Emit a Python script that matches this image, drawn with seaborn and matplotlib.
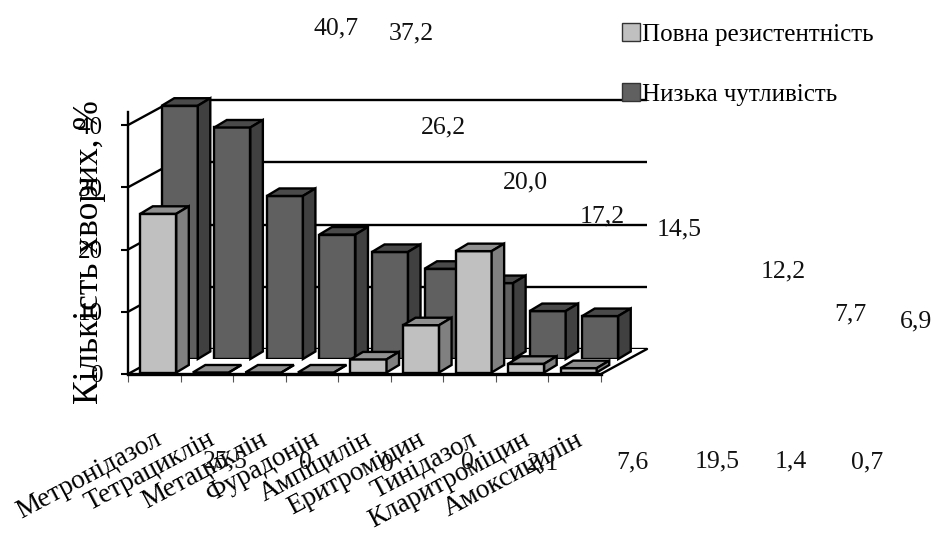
import matplotlib
matplotlib.use("Agg")
import matplotlib.pyplot as plt
import pandas as pd
import seaborn as sns
from matplotlib.patches import Patch, Polygon
from matplotlib.transforms import IdentityTransform

# дані з рисунка
drugs = ["Метронідазол", "Тетрациклін", "Метациклін", "Фурадонін", "Ампіцилін",
         "Еритроміцин", "Тинідазол", "Кларитроміцин", "Амоксицилін"]
full_resistance = [25.5, 0, 0, 0, 2.1, 7.6, 19.5, 1.4, 0.7]
low_sensitivity = [40.7, 37.2, 26.2, 20.0, 17.2, 14.5, 12.2, 7.7, 6.9]
y_ticks = [0, 10, 20, 30, 40]

# підписи стоять не над стовпчиками, а як на оригіналі (пікселі)
low_label_xy = [(336, 28), (411, 33), (443, 127), (525, 182), (602, 216),
                (679, 229), (783, 271), (850, 314), (916, 321)]
full_label_xy = [(225, 461), (305, 463), (387, 465), (467, 463), (543, 463),
                 (632, 462), (717, 461), (791, 461), (867, 462)]

W, H = 934, 534
sns.set_theme(style="white")
plt.rcParams["font.family"] = ["Liberation Serif", "DejaVu Serif"]

df = pd.DataFrame({"drug": drugs, "full": full_resistance, "low": low_sensitivity})
fig = plt.figure(figsize=(W / 100, H / 100), dpi=100, facecolor="white")


def make_ax(dx, dy, z):
    # усі осі мають один масштаб, зсув дає глибину
    ax = fig.add_axes([(128 + dx) / W, (H - 374 + dy) / H, 473 / W, 262 / H], zorder=z)
    ax.patch.set_alpha(0)
    ax.set_xlim(-0.5, 8.5)
    ax.set_ylim(0, 42.1)
    sns.despine(ax=ax, left=True, bottom=True)
    ax.set_xticks([])
    ax.set_yticks([])
    ax.set_xlabel("")
    ax.set_ylabel("")
    return ax


def bars_3d(ax, col, face, top, side, dx=12.5, dy=7.5):
    sns.barplot(data=df, x="drug", y=col, ax=ax, color=face, saturation=1,
                edgecolor="black", linewidth=1.7, width=0.686)
    ax.set_xlim(-0.5, 8.5)
    ax.set_ylim(0, 42.1)
    ax.set_xticks([])
    ax.set_yticks([])
    ax.set_xlabel("")
    ax.set_ylabel("")
    for bar in list(ax.patches):
        x0, y0 = ax.transData.transform((bar.get_x(), 0))
        x1, y1 = ax.transData.transform((bar.get_x() + bar.get_width(), bar.get_height()))
        roof = [(x0, y1), (x1, y1), (x1 + dx, y1 + dy), (x0 + dx, y1 + dy)]
        wall = [(x1, y0), (x1 + dx, y0 + dy), (x1 + dx, y1 + dy), (x1, y1)]
        for pts, c in ((roof, top), (wall, side)):
            ax.add_patch(Polygon(pts, closed=True, facecolor=c, edgecolor="black",
                                 linewidth=1.7, transform=IdentityTransform(),
                                 clip_on=False, zorder=bar.get_zorder()))


# задня стінка з лініями сітки
wall_ax = make_ax(46, 25, 1)
wall_ax.set_yticks(y_ticks)
wall_ax.set_yticklabels([])
wall_ax.tick_params(left=False)
wall_ax.grid(axis="y", color="black", linewidth=1.7)
for v in y_ticks:
    wall_ax.plot([-0.5 - 46 / 52.55, -0.5], [v - 25 / 6.22, v], color="black",
                 linewidth=1.7, clip_on=False)
wall_ax.plot([8.5 - 46 / 52.55, 8.5], [-25 / 6.22, 0], color="black", linewidth=1.7, clip_on=False)

back_ax = make_ax(25.5, 15, 2)
bars_3d(back_ax, "low", "#606060", "#4a4a4a", "#404040")

front_ax = make_ax(4, 1.5, 3)
bars_3d(front_ax, "full", "#c0c0c0", "#909090", "#808080")

# власне осі
frame = make_ax(0, 0, 4)
frame.spines["left"].set_visible(True)
frame.spines["bottom"].set_visible(True)
frame.spines["left"].set_linewidth(1.7)
frame.spines["bottom"].set_linewidth(2.4)
frame.spines["left"].set_color("black")
frame.spines["bottom"].set_color("black")
frame.set_yticks(y_ticks)
frame.set_yticklabels(y_ticks, fontsize=18, color="black")
frame.tick_params(axis="y", left=True, length=5, width=1.5, color="black", pad=13)
frame.set_xticks([i - 0.5 for i in range(10)])
frame.set_xticklabels([])
frame.tick_params(axis="x", which="major", bottom=True, length=6, width=0.8, color="#555555")
frame.set_xticks(range(9), labels=drugs, minor=True)
frame.tick_params(axis="x", which="minor", bottom=False, length=0, pad=38, labelsize=19.5,
                  labelcolor="black")
for lab in frame.get_xticklabels(minor=True):
    lab.set_rotation(28)
    lab.set_ha("right")
    lab.set_rotation_mode("anchor")

frame.set_ylabel("Кількість хворих, %", fontsize=25.5, color="black", va="center")
frame.yaxis.set_label_coords((90 - 128) / 473, (374 - 252) / 262)


def value_text(v):
    return "0" if v == 0 else f"{v:.1f}".replace(".", ",")


for vals, coords in ((low_sensitivity, low_label_xy), (full_resistance, full_label_xy)):
    for v, (px, py) in zip(vals, coords):
        fig.text(px / W, 1 - py / H, value_text(v), ha="center", va="center", fontsize=18.5,
                 color="#111111", zorder=10)

handles = [Patch(facecolor="#c0c0c0", edgecolor="#333333", linewidth=1),
           Patch(facecolor="#606060", edgecolor="#333333", linewidth=1)]
fig.legend(handles, ["Повна резистентність", "Низька чутливість"], frameon=False, fontsize=18,
           loc="upper left", bbox_to_anchor=(622 / W, 1 - 23 / H), handlelength=0.72,
           handleheight=0.72, handletextpad=0.1, labelspacing=1.5, labelcolor="black",
           borderpad=0, borderaxespad=0)

fig.savefig("out.png", dpi=100, facecolor="white")
